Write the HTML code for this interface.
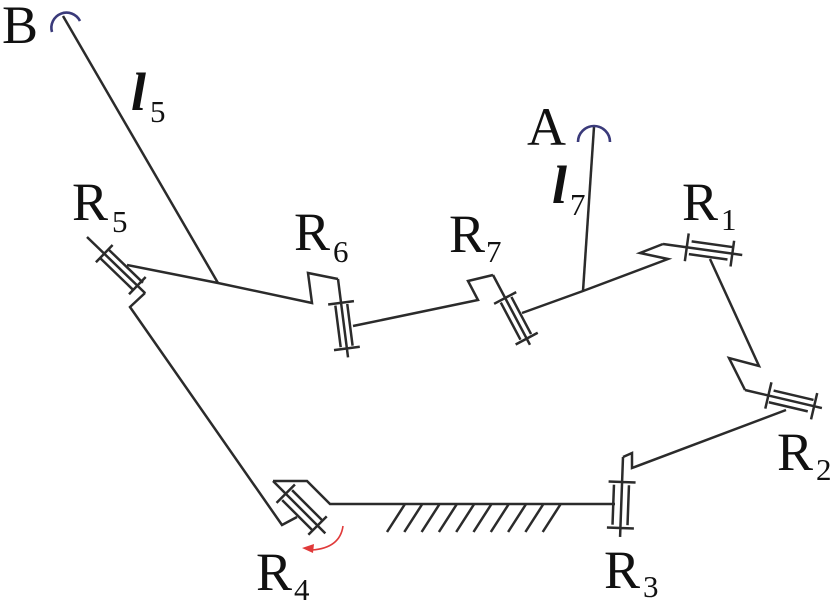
<!DOCTYPE html>
<html>
<head>
<meta charset="utf-8">
<style>
  html,body{margin:0;padding:0;background:#fff;}
  svg{display:block;}
  .t{font-family:"Liberation Serif","Noto Serif CJK SC","Noto Serif CJK JP",serif;fill:#111;}
</style>
</head>
<body>
<svg width="833" height="603" viewBox="0 0 833 603" xmlns="http://www.w3.org/2000/svg">
  <g fill="none" stroke="#2b2b2b" stroke-width="2.5" stroke-linejoin="miter" stroke-linecap="butt">
    <path d="M63,16 L218,283"/>
    <path d="M594,127 L583,291"/>

    <path d="M127,265 L218,283 L312,303 L308,273 L338,279"/>
    <path d="M353,326 L478,300 L468,281 L493,275"/>
    <path d="M522,313 L583,291 L668,259 L640,253 L663,244"/>
    <path d="M710,259 L759,366 L729,358 L745,390"/>
    <path d="M786,410 L632,468 L632,453 L623,457"/>
    <path d="M145,293 L130,307 L282,525 L297,517"/>
    <path d="M273,481 L307,481 L330,504 L615,504"/>

    <path d="M387,532 L405,504 M404.3,532 L422.3,504 M421.6,532 L439.6,504 M438.9,532 L456.9,504 M456.2,532 L474.2,504 M473.5,532 L491.5,504 M490.8,532 L508.8,504 M508.1,532 L526.1,504 M525.4,532 L543.4,504 M542.7,532 L560.7,504"/>

    <g transform="translate(87,237) rotate(44)">
      <path d="M0,0H81 M24,-12V12 M70,-12V12 M24,-6H72 M24,6H70"/>
    </g>
    <g transform="translate(338,279) rotate(82.7)">
      <path d="M0,0H79 M24,-13V13 M70,-13V13 M26,-6H68 M26,6H68"/>
    </g>
    <g transform="translate(493,275) rotate(62.1)">
      <path d="M0,0H79 M26,-12.5V12.5 M72,-12.5V12.5 M28,-6H70 M28,6H70"/>
    </g>
    <g transform="translate(663,244) rotate(7.9)">
      <path d="M0,0H80 M24,-14V14 M70,-13V13 M28,-6.5H70 M27,6.5H66"/>
    </g>
    <g transform="translate(745,390) rotate(13.2)">
      <path d="M0,0H79 M24,-13.5V13.5 M71,-13.5V13.5 M28,-6H69 M26,6.5H66"/>
    </g>
    <g transform="translate(623,457) rotate(92.1)">
      <path d="M0,0H80 M25,-13.5V13.5 M71,-13.5V13.5 M28,-7H68 M28,8H68"/>
    </g>
    <g transform="translate(273,481) rotate(45)">
      <path d="M0,0H74 M18,-13V13 M63,-13V13 M20,-7H62 M20,7H62"/>
    </g>
  </g>

  <g fill="none" stroke="#3a3a7a" stroke-width="2.6">
    <path d="M52,32 A15.1,15.1 0 0 1 80,21"/>
    <path d="M578,142 A16,16 0 0 1 610,142"/>
  </g>

  <path d="M343,526 Q340,548 312,550" fill="none" stroke="#e03a3a" stroke-width="1.6"/>
  <polygon points="302,548 314,544 313,553" fill="#e03a3a"/>

  <text class="t" x="2" y="43" font-size="54">B</text>
  <text class="t" x="527" y="145" font-size="54">A</text>

  <text class="t" x="131" y="110" font-size="54" font-style="italic" font-weight="bold">l</text>
  <text class="t" x="150" y="122" font-size="31">5</text>

  <text class="t" x="552" y="203" font-size="54" font-style="italic" font-weight="bold">l</text>
  <text class="t" x="570" y="215" font-size="31">7</text>

  <text class="t" x="72" y="220" font-size="54">R</text>
  <text class="t" x="112" y="232" font-size="31">5</text>

  <text class="t" x="294" y="250" font-size="54">R</text>
  <text class="t" x="333" y="262" font-size="31">6</text>

  <text class="t" x="449" y="252" font-size="54">R</text>
  <text class="t" x="486" y="262" font-size="31">7</text>

  <text class="t" x="682" y="220" font-size="54">R</text>
  <text class="t" x="721" y="230" font-size="31">1</text>

  <text class="t" x="777" y="470" font-size="54">R</text>
  <text class="t" x="816" y="480" font-size="31">2</text>

  <text class="t" x="604" y="588" font-size="54">R</text>
  <text class="t" x="643" y="597" font-size="31">3</text>

  <text class="t" x="256" y="590" font-size="54">R</text>
  <text class="t" x="294" y="600" font-size="31">4</text>
</svg>
</body>
</html>
